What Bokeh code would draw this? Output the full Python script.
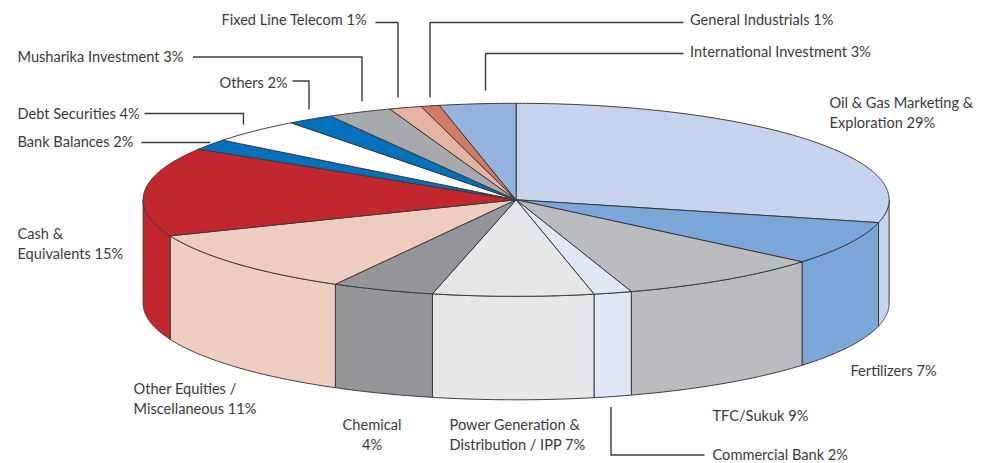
import numpy as np
from bokeh.embed import file_html
from bokeh.resources import INLINE
from bokeh.models import ColumnDataSource, Range1d
from bokeh.plotting import figure
from bokeh.core.properties import value

# ---- data (share of portfolio) ----
categories = ["Oil & Gas Marketing & Exploration", "Fertilizers", "TFC/Sukuk", "Commercial Bank",
              "Power Generation & Distribution / IPP", "Chemical", "Other Equities / Miscellaneous",
              "Cash & Equivalents", "Bank Balances", "Debt Securities", "Others", "Musharika Investment",
              "Fixed Line Telecom", "General Industrials", "International Investment"]
shares = [28.8, 7.3, 8.9, 1.65, 6.95, 4.45, 10.85, 14.9, 1.8, 4.1, 2.0, 2.8, 1.4, 0.8, 3.3]
colors = ["#C6D4EE", "#7BA6D9", "#BBBCBF", "#E0E7F5", "#E6E7E9", "#939598", "#EECCBF", "#C1272D",
          "#0071BD", "#FFFFFF", "#0071BD", "#A7A9AC", "#E6B4A2", "#D27A62", "#94B3DF"]

labels = ["Oil & Gas Marketing &\nExploration 29%", "Fertilizers 7%", "TFC/Sukuk 9%", "Commercial Bank 2%",
          "Power Generation &\nDistribution / IPP 7%", "Chemical\n4%", "Other Equities /\nMiscellaneous 11%",
          "Cash &\nEquivalents 15%", "Bank Balances 2%", "Debt Securities 4%", "Others 2%",
          "Musharika Investment 3%", "Fixed Line Telecom 1%", "General Industrials 1%",
          "International Investment 3%"]

# ---- layout ----
CX, CY, RX, RY, DEPTH = 515.6, 199.3, 373.0, 96.5, 103.5
label_x = [829, 850, 712, 712, 449, 371.5, 133, 17, 17, 17, 219, 17, 221, 689.5, 689.5]
label_y = [112, 370, 415, 454, 434, 434, 398, 243, 141, 113, 82, 56, 19, 19, 51]
label_align = ["left", "left", "left", "left", "left", "center", "left", "left", "left", "left",
               "left", "left", "left", "left", "left"]
leaders = [([375, 397.5, 397.5], [22, 22, 97]),
           ([683, 429.5, 429.5], [22, 22, 97]),
           ([683, 485, 485], [53, 53, 90]),
           ([192.5, 361.5, 361.5], [56.5, 56.5, 101]),
           ([292, 308.5, 308.5], [80.5, 80.5, 109]),
           ([144, 243, 243], [113, 113, 124]),
           ([141, 210], [142, 142]),
           ([610.5, 610.5, 704], [406.5, 454.5, 454.5])]


def rim(t):
    return CX + RX * np.sin(t), CY - RY * np.cos(t)


edges = np.radians(np.concatenate([[0], np.cumsum(shares)]) * 360 / sum(shares))

top_x, top_y, wall_x, wall_y, wall_c = [], [], [], [], []
for a, b, c in zip(edges[:-1], edges[1:], colors):
    n = max(int((b - a) * 120), 3)
    xs, ys = rim(np.linspace(a, b, n))
    top_x.append([CX, *xs])
    top_y.append([CY, *ys])
    lo, hi = max(a, np.pi / 2), min(b, 3 * np.pi / 2)
    if hi > lo:
        xs, ys = rim(np.linspace(lo, hi, n))
        wall_x.append([*xs, *xs[::-1]])
        wall_y.append([*ys, *(ys[::-1] + DEPTH)])
        wall_c.append(c)

p = figure(width=991, height=463, output_backend="svg", toolbar_location=None,
           x_range=Range1d(0, 991), y_range=Range1d(463, 0), min_border=0)
p.axis.visible = False
p.grid.visible = False
p.outline_line_color = None
p.background_fill_color = "white"

p.patches("x", "y", source=ColumnDataSource(dict(x=wall_x, y=wall_y, c=wall_c)),
          fill_color="c", line_color="#3A3A3C", line_width=1)
p.patches("x", "y", source=ColumnDataSource(dict(x=top_x, y=top_y, c=colors)),
          fill_color="c", line_color="#3A3A3C", line_width=1)
p.multi_line([l[0] for l in leaders], [l[1] for l in leaders], line_color="#3A3A3C", line_width=1.4)
p.text("x", "y", text="t", source=ColumnDataSource(dict(x=label_x, y=label_y, t=labels, a=label_align)),
       text_align="a", text_baseline="middle", text_font=value("Lato"), text_font_size="14.6px",
       text_color="#3A3A3C", text_line_height=1.17)

open("out.html", "w").write(file_html(p, INLINE))
